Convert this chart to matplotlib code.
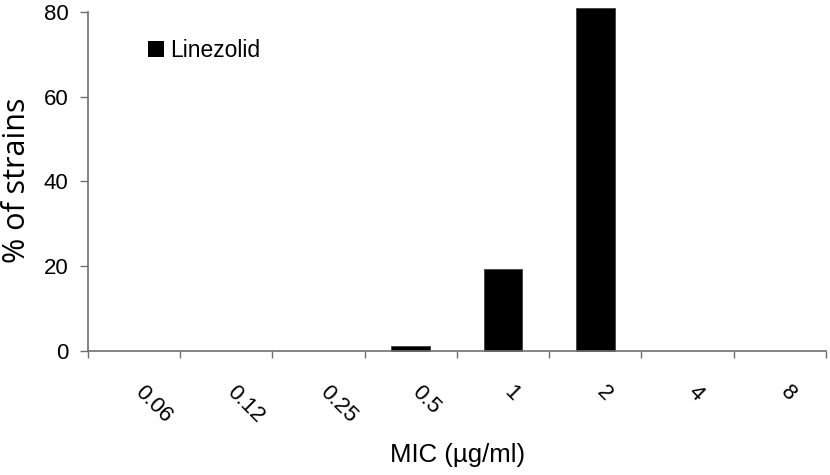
import matplotlib
matplotlib.use('Agg')
import matplotlib.pyplot as plt
import matplotlib.transforms as mtransforms
import numpy as np

# MIC distribution for linezolid
mic_labels = ['0.06', '0.12', '0.25', '0.5', '1', '2', '4', '8']
pct_strains = [0, 0, 0, 1.2, 19.4, 80.9, 0, 0]
series_name = 'Linezolid'

plt.rcParams['font.family'] = ['Liberation Sans', 'DejaVu Sans']
axis_col = '#707070'

fig = plt.figure(figsize=(8.3, 4.75), dpi=100)
ax = fig.add_axes([0.106, 0.261, 0.889, 0.714])

x = np.arange(len(mic_labels))
lw = [0.6 if v > 0 else 0 for v in pct_strains]
bars = ax.bar(x, pct_strains, width=0.42, color='black', edgecolor='#404040',
              linewidth=lw, label=series_name, clip_on=False)

ax.set_xlim(-0.5, len(mic_labels) - 0.5)
ax.set_ylim(0, 80)
ax.set_yticks([0, 20, 40, 60, 80])

# tick marks at category boundaries, labels at centers
ax.set_xticks(np.arange(len(mic_labels) + 1) - 0.5)
ax.set_xticklabels([])
ax.tick_params(axis='x', length=5, width=1, color=axis_col, direction='out')
ax.tick_params(axis='y', length=5.5, width=1, color=axis_col, direction='out',
               labelsize=16, pad=8.5)

off = mtransforms.ScaledTranslation(4 / 100, -38 / 100, fig.dpi_scale_trans)
for xi, lab in zip(x, mic_labels):
    ax.text(xi, 0, lab, transform=ax.get_xaxis_transform() + off,
            rotation=-45, rotation_mode='anchor', ha='left', va='center',
            fontsize=16)

for s in ['top', 'right']:
    ax.spines[s].set_visible(False)
for s in ['left', 'bottom']:
    ax.spines[s].set_color(axis_col)
    ax.spines[s].set_linewidth(1.2)

fig.text(0.02, 0.621, '% of strains', rotation=90, ha='center', va='center',
         fontsize=22, family=['Open Sans', 'DejaVu Sans'])
fig.text(0.551, 0.042, 'MIC (µg/ml)', ha='center', va='center', fontsize=18.5)

ax.legend(loc='upper left', bbox_to_anchor=(0.081, 0.92), frameon=False,
          fontsize=16.5, handlelength=0.72, handleheight=0.72, handletextpad=0.25,
          borderpad=0, borderaxespad=0)

fig.savefig('out.png', dpi=100)
